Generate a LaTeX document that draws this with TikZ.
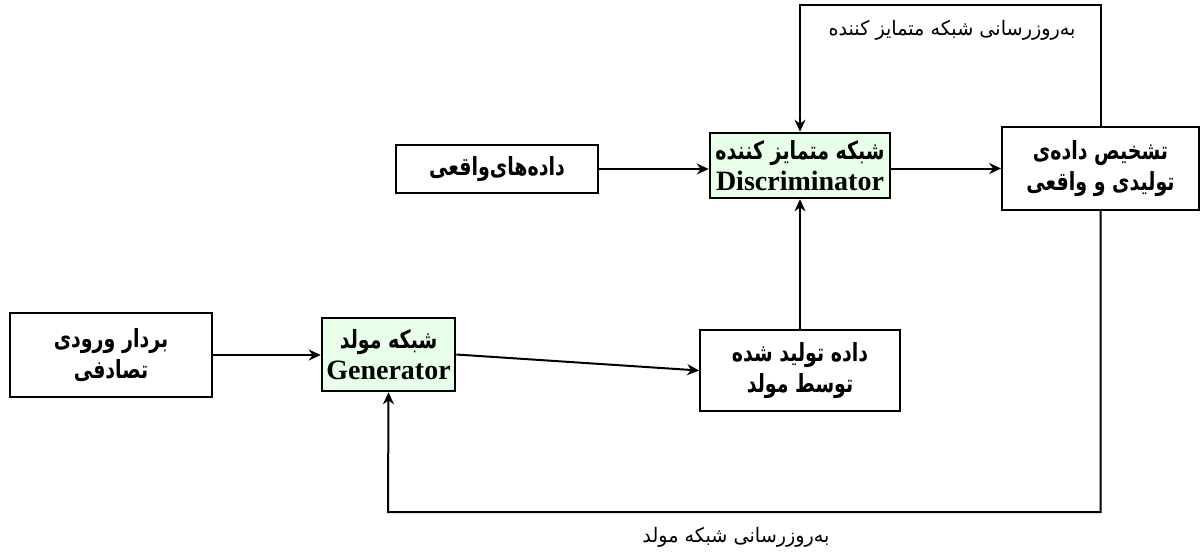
\documentclass[tikz,border=0pt]{standalone}
\usepackage{fontspec}
\setmainfont{Liberation Serif}
% narrowed face for the box captions, plain face for the loop labels
\newfontfamily\fabox[Script=Arabic, FakeStretch=0.76]{DejaVu Sans}
\newfontfamily\fa[Script=Arabic, FakeStretch=0.96]{DejaVu Sans}
\TeXXeTstate=1
\usetikzlibrary{arrows.meta}
\definecolor{netgreen}{RGB}{232,255,232}
% right-to-left Persian runs
\newcommand\fatxt[1]{{\fabox\beginR #1\endR}}
\newcommand\falbl[1]{{\fa\beginR #1\endR}}
\begin{document}
\begin{tikzpicture}[x=0.5pt,y=-0.5pt,
  plain/.style={draw, line width=0.85pt, fill=white, inner sep=0pt, align=center,
    font=\fontsize{12.5}{15.5}\selectfont\bfseries},
  net/.style={draw, line width=1.3pt, fill=netgreen, inner sep=0pt, align=center,
    font=\fontsize{12.5}{15.5}\selectfont\bfseries},
  link/.style={line width=1pt, -{Stealth[length=6pt,width=5.5pt]}},
  note/.style={font=\fontsize{10}{12}\selectfont, inner sep=0pt},
]
\useasboundingbox (0,0) rectangle (1200,553);

% boxes
\node[plain, minimum width=101pt, minimum height=24pt] (real) at (497,169)
  {\fatxt{داده^^^^200cهای^^^^200cواقعی}};
\node[net, minimum width=90pt, minimum height=32.5pt] (disc) at (800,165.5)
  {\fatxt{شبکه متمایز کننده}\\{\fontsize{14}{15}\selectfont Discriminator}};
\node[plain, minimum width=98.5pt, minimum height=41.5pt] (detect) at (1100.5,168.5)
  {\fatxt{تشخیص داده^^^^200cی}\\\fatxt{تولیدی و واقعی}};
\node[plain, minimum width=101pt, minimum height=42pt] (rand) at (111,355)
  {\fatxt{بردار ورودی}\\\fatxt{تصادفی}};
\node[net, minimum width=66.5pt, minimum height=36.5pt] (gen) at (388.5,354.5)
  {\fatxt{شبکه مولد}\\{\fontsize{14}{15}\selectfont Generator}};
\node[plain, minimum width=100pt, minimum height=40.5pt] (gdata) at (800,370.5)
  {\fatxt{داده تولید شده}\\\fatxt{توسط مولد}};

% feedback corners
\coordinate (tl) at (800,5);
\coordinate (bl) at (388,512);

% data flow
\draw[link] (real.east) -- (real.east -| disc.west);
\draw[link] (detect.west -| disc.east) -- (detect.west);
\draw[link] (rand.east) -- (rand.east -| gen.west);
\draw[link] (gen.east) -- (gdata.west);
\draw[link] (gdata.north) -- (disc.south);

% update loops
\draw[link] (detect.north) |- (tl) -- (disc.north);
\draw[link] (detect.south) |- (bl) -- (gen.south);

% loop labels
\node[note] (dlabel) at (952,30) {\falbl{به^^^^200cروزرسانی شبکه متمایز کننده}};
\node[note] (glabel) at (736,537) {\falbl{به^^^^200cروزرسانی شبکه مولد}};
\end{tikzpicture}
\end{document}
